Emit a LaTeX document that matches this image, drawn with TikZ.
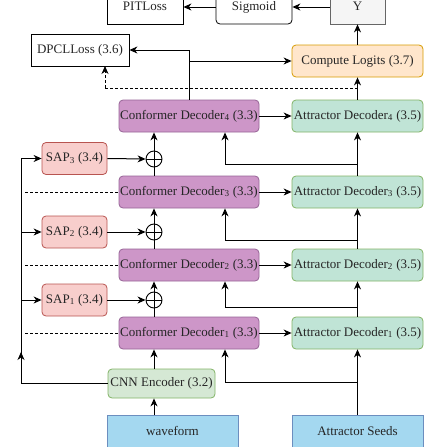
\documentclass[tikz,border=0pt]{standalone}
\usepackage{fontspec}
\setmainfont{Liberation Serif}
\usetikzlibrary{arrows.meta,calc}
\definecolor{cdfill}{RGB}{205,150,200}
\definecolor{cdline}{RGB}{150,100,150}
\definecolor{adfill}{RGB}{192,228,214}
\definecolor{adline}{RGB}{130,179,102}
\definecolor{sapfill}{RGB}{248,206,204}
\definecolor{sapline}{RGB}{184,84,80}
\definecolor{cnnfill}{RGB}{213,232,212}
\definecolor{clfill}{RGB}{255,230,204}
\definecolor{clline}{RGB}{215,155,0}
\definecolor{wavefill}{RGB}{164,216,240}
\definecolor{waveline}{RGB}{108,142,191}
\definecolor{yfill}{RGB}{245,245,245}
\definecolor{yline}{RGB}{102,102,102}
\tikzset{
  x=1pt,y=-1pt,
  box/.style={draw, line width=0.8pt, inner sep=0pt, font=\fontsize{13}{15}\selectfont, text=black!85,
    text height=9pt, text depth=3pt},
  rbox/.style={box, rounded corners=4pt},
  cdbox/.style={rbox, fill=cdfill, draw=cdline, minimum width=140pt, minimum height=32pt},
  adbox/.style={rbox, fill=adfill, draw=adline, minimum width=131pt, minimum height=32pt},
  sapbox/.style={rbox, fill=sapfill, draw=sapline, minimum width=65pt, minimum height=32pt},
  conn/.style={line width=1pt, black},
  arr/.style={conn, -{Stealth[length=8pt,width=7pt,inset=2.5pt]}},
  dashline/.style={conn, dashed, dash pattern=on 3pt off 2pt},
  plus/.style={circle, draw, line width=0.9pt, minimum size=16pt, inner sep=0pt, path picture={
    \draw[line width=0.9pt] (path picture bounding box.north) -- (path picture bounding box.south)
      (path picture bounding box.west) -- (path picture bounding box.east);}},
}
\begin{document}
\begin{tikzpicture}
\useasboundingbox (0,0) rectangle (436,447);
\clip (0,0) rectangle (436,447);
% top row
\node[box, minimum width=76pt, minimum height=34pt] (pit) at (145,7) {PITLoss};
\node[rbox, minimum width=76pt, minimum height=34pt] (sig) at (254,7) {Sigmoid};
\node[box, fill=yfill, draw=yline, minimum width=55pt, minimum height=34pt] (y) at (357.5,7) {Y};
\node[box, minimum width=98pt, minimum height=32pt] (dpcl) at (80,50) {DPCLLoss (3.6)};
\node[rbox, fill=clfill, draw=clline, minimum width=131pt, minimum height=32pt] (cl) at (357.5,61) {Compute Logits (3.7)};
% decoders
\node[cdbox] (cd4) at (189,116) {Conformer Decoder\textsubscript{4} (3.3)};
\node[adbox] (ad4) at (357.5,116) {Attractor Decoder\textsubscript{4} (3.5)};
\node[cdbox] (cd3) at (189,192) {Conformer Decoder\textsubscript{3} (3.3)};
\node[adbox] (ad3) at (357.5,192) {Attractor Decoder\textsubscript{3} (3.5)};
\node[cdbox] (cd2) at (189,265) {Conformer Decoder\textsubscript{2} (3.3)};
\node[adbox] (ad2) at (357.5,265) {Attractor Decoder\textsubscript{2} (3.5)};
\node[cdbox] (cd1) at (189,333) {Conformer Decoder\textsubscript{1} (3.3)};
\node[adbox] (ad1) at (357.5,333) {Attractor Decoder\textsubscript{1} (3.5)};
% SAPs and sums
\node[sapbox] (sap3) at (74.5,158.5) {SAP\textsubscript{3} (3.4)};
\node[sapbox] (sap2) at (74.5,232) {SAP\textsubscript{2} (3.4)};
\node[sapbox] (sap1) at (74.5,300) {SAP\textsubscript{1} (3.4)};
\node[plus] (p3) at (154,159) {};
\node[plus] (p2) at (154,232) {};
\node[plus] (p1) at (154,300) {};
% bottom
\node[rbox, fill=cnnfill, draw=adline, minimum width=107pt, minimum height=29pt] (cnn) at (161.5,383.5) {CNN Encoder (3.2)};
\node[box, fill=wavefill, draw=waveline, minimum width=131pt, minimum height=34pt] (wave) at (172.5,432) {waveform};
\node[box, fill=wavefill, draw=waveline, minimum width=131pt, minimum height=34pt] (seeds) at (357.5,432) {Attractor Seeds};
\coordinate (lx) at (21,0);
\coordinate (bx) at (225,0);

% top arrows
\draw[arr] (y.west) -- (sig.east);
\draw[arr] (sig.west) -- (sig.west -| pit.east);
\draw[arr] (cl.north) -- (y.south);
\draw[arr] (cd4.north) |- (dpcl.east);
\draw[arr] (cd4.north |- cl.west) -- (cl.west);
\draw[arr] (ad4.north) -- (cl.south);
\draw[dashline] (ad4.north |- 0,88) -- (105,88);
\draw[arr, dashed, dash pattern=on 3pt off 2pt] (105,88) -- (105,66);

% horizontal CD -> AD
\foreach \k in {1,2,3,4} {\draw[arr] (cd\k.east) -- (ad\k.west);}
% AD chain and branches
\foreach \a/\b/\yy in {3/4/164, 2/3/240, 1/2/307} {
  \draw[arr] (ad\a.north) -- (ad\b.south);
  \draw[arr] (ad\a.north |- 0,\yy) -| (bx |- cd\b.south);
}
\draw[arr] (seeds.north) -- (ad1.south);
\draw[arr] (seeds.north |- 0,382) -| (bx |- cd1.south);
% sums
\foreach \s/\a/\b in {3/3/4, 2/2/3, 1/1/2} {
  \draw[arr] (sap\s.east) -- (p\s.west);
  \draw[conn] (p\s.south) -- (p\s.south |- cd\a.north);
  \draw[arr] (p\s.north) -- (p\s.north |- cd\b.south);
}
% encoder
\draw[arr] (wave.north -| p1) -- (cnn.south -| p1);
\draw[arr] (cnn.north -| p1) -- (cd1.south -| p1);
\draw[conn] (cnn.west) -- (lx |- cnn.west) -- (lx |- sap3.west);
\draw[arr] (lx |- 0,383) -- (lx |- 0,352);
\draw[arr] (lx |- sap3.west) -- (sap3.west);
\draw[arr] (lx |- sap2.west) -- (sap2.west);
\draw[arr] (lx |- sap1.west) -- (sap1.west);
% dashed
\draw[dashline] (25,192) -- (cd3.west);
\draw[dashline] (25,265) -- (cd2.west);
\draw[dashline] (25,333) -- (cd1.west);
\end{tikzpicture}
\end{document}
